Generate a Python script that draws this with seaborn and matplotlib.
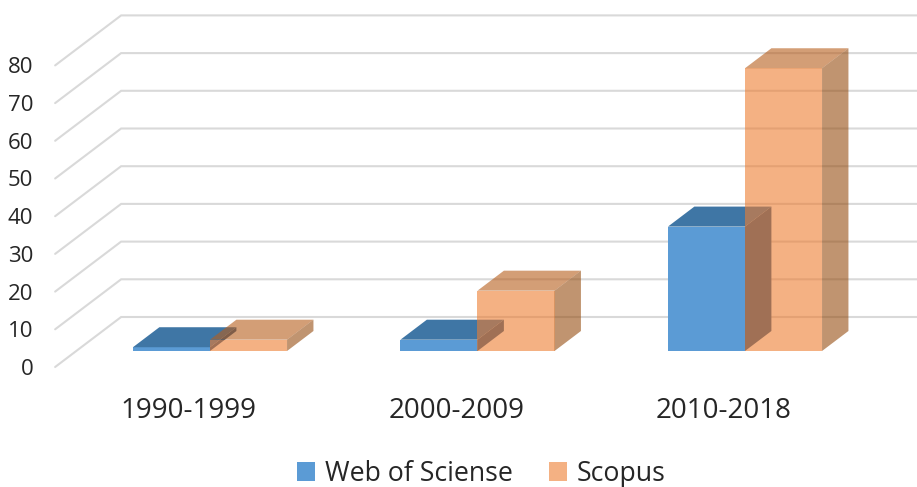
import matplotlib
matplotlib.use("Agg")
import matplotlib.pyplot as plt
import seaborn as sns
import pandas as pd
from matplotlib.patches import Polygon, Patch

# ---- data ----
periods = ["1990-1999", "2000-2009", "2010-2018"]
series_names = ["Web of Sciense", "Scopus"]
wos_values = [1, 3, 33]
scopus_values = [3, 16, 75]
y_ticks = [0, 10, 20, 30, 40, 50, 60, 70, 80]

df = pd.DataFrame({
    "period": periods + periods,
    "source": [series_names[0]] * 3 + [series_names[1]] * 3,
    "value": wos_values + scopus_values,
})

sns.set_theme(style="white")
plt.rcParams["font.family"] = ["Open Sans", "DejaVu Sans"]
plt.rcParams["text.color"] = "#262626"

W, H = 917, 487
fig = plt.figure(figsize=(W / 100, H / 100), dpi=100)
ax_l, ax_b, ax_w, ax_h = 76.25, 136, 802.5, 339.3
ax = fig.add_axes([ax_l / W, ax_b / H, ax_w / W, ax_h / H])

front_colors = {"Web of Sciense": "#5B9BD5", "Scopus": "#ED7D31"}
sns.barplot(data=df, x="period", y="value", hue="source", hue_order=series_names,
            palette=front_colors, width=0.576, saturation=1, legend=False, ax=ax)
ax.set_xlim(-0.5, 2.5)
ax.set_ylim(0, 90)
ax.set_axis_off()

PX_X = ax_w / 3.0
PX_Y = ax_h / 90.0
Dx, Dy = 66 / PX_X, 50 / PX_Y        # full depth (front frame -> back wall)
f_front, f_back, f_bar = 0.32, 0.68, 0.40
bx, by = f_bar * Dx, f_bar * Dy

grid_color = "#d9d9d9"
for v in y_ticks:
    yb = v + f_back * Dy
    ax.plot([-0.5 - f_front * Dx, -0.5 + f_back * Dx, 2.5 + f_back * Dx],
            [v - f_front * Dy, yb, yb], color=grid_color, lw=1.5,
            clip_on=False, zorder=1, solid_joinstyle="miter")
    ax.text(-0.5 - f_front * Dx - 22 / PX_X, v - f_front * Dy, str(v),
            ha="right", va="center_baseline", fontsize=16, clip_on=False)

for i, p in enumerate(periods):
    ax.text(i - f_front * Dx, -56 / PX_Y, p, ha="center", va="center_baseline",
            fontsize=20, clip_on=False)

shade = {
    "Web of Sciense": dict(top="#3F76A5", side="#2E5F8C", alpha=1.0, z=3),
    "Scopus": dict(top="#B65D1B", side="#964D11", alpha=0.6, z=5),
}
for name, cont in zip(series_names, ax.containers):
    s = shade[name]
    for bar in cont:
        x0, w, h = bar.get_x(), bar.get_width(), bar.get_height()
        bar.set_alpha(s["alpha"])
        bar.set_linewidth(0)
        bar.set_zorder(s["z"])
        top = Polygon([(x0, h), (x0 + w, h), (x0 + w + bx, h + by), (x0 + bx, h + by)],
                      closed=True, facecolor=s["top"], alpha=s["alpha"], lw=0,
                      zorder=s["z"] + 0.1, clip_on=False)
        side = Polygon([(x0 + w, 0), (x0 + w + bx, by), (x0 + w + bx, h + by), (x0 + w, h)],
                       closed=True, facecolor=s["side"], alpha=s["alpha"], lw=0,
                       zorder=s["z"] + 0.1, clip_on=False)
        ax.add_patch(top)
        ax.add_patch(side)

handles = [Patch(facecolor=front_colors[series_names[0]], lw=0),
           Patch(facecolor=front_colors[series_names[1]], alpha=0.6, lw=0)]
fig.legend(handles=handles, labels=series_names, loc="center",
           bbox_to_anchor=(481 / W, 13 / H), ncol=2, frameon=False, fontsize=19.2,
           handlelength=0.68, handleheight=0.68, handletextpad=0.36, columnspacing=1.35)

fig.savefig("out.png", dpi=100)
